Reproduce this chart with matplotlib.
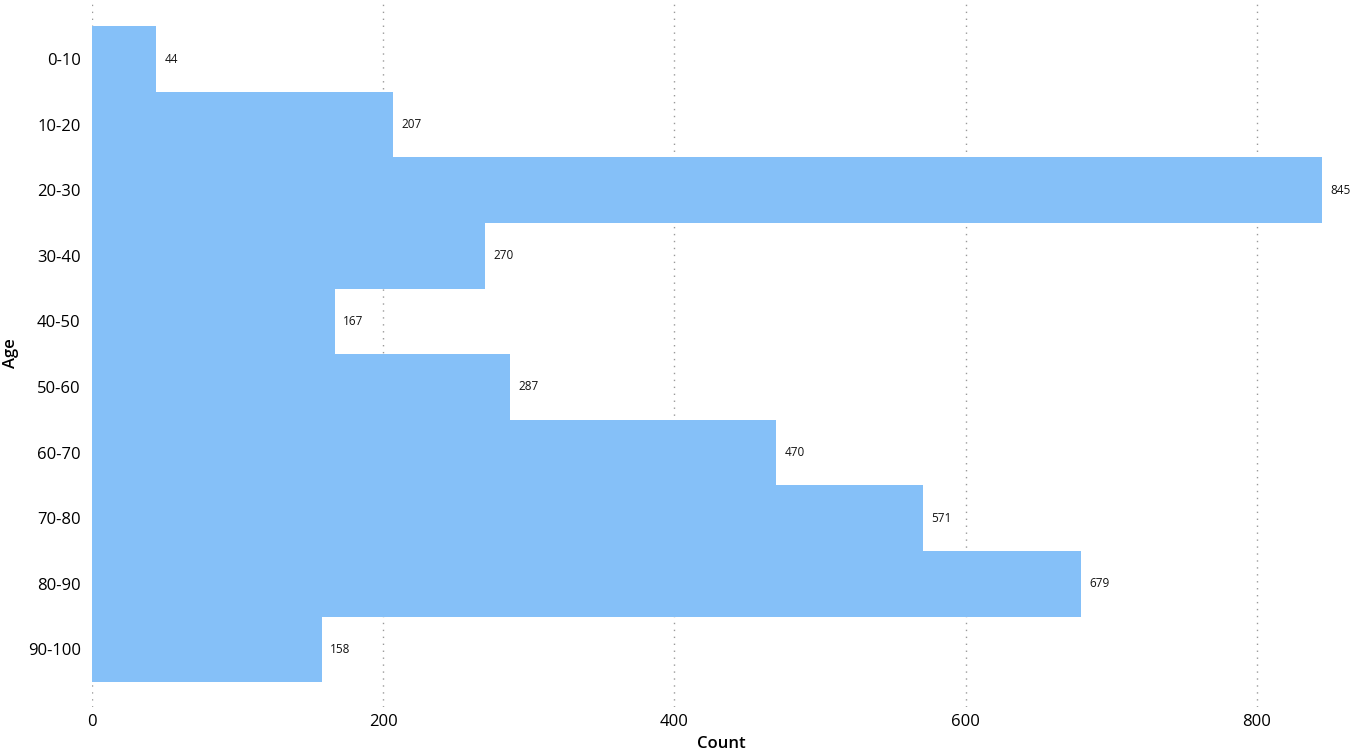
import matplotlib.pyplot as plt
import numpy as np

plt.rcParams['font.family'] = ['Open Sans', 'DejaVu Sans']

ages = ['0-10', '10-20', '20-30', '30-40', '40-50', '50-60', '60-70', '70-80', '80-90', '90-100']
counts = [44, 207, 845, 270, 167, 287, 470, 571, 679, 158]
xticks = [0, 200, 400, 600, 800]

fig = plt.figure(figsize=(13.5, 7.53), dpi=100)
ax = fig.add_axes([0.068, 0.061, 0.932, 0.939])

y = np.arange(len(ages))
bars = ax.barh(y, counts, height=1.0, color='#85c0f8', linewidth=0, zorder=2)

for b, v in zip(bars, counts):
    ax.annotate(str(v), (b.get_width(), b.get_y() + b.get_height() / 2),
                xytext=(6, 0), textcoords='offset points', va='center', ha='left',
                fontsize=8.5, color='#111111')

ax.set_yticks(y)
ax.set_yticklabels(ages, fontsize=12)
ax.set_xticks(xticks)
ax.set_xticklabels([str(t) for t in xticks], fontsize=12)
ax.set_xlim(0, 864)
ax.set_ylim(9.88, -0.9)

ax.grid(axis='x', linestyle=(0, (1, 4)), color='#999999', linewidth=1.0, zorder=0)
ax.set_axisbelow(True)
for s in ax.spines.values():
    s.set_visible(False)
ax.tick_params(axis='y', length=0, pad=8)
ax.tick_params(axis='x', length=0, pad=5)

ax.set_xlabel('Count', fontsize=12, fontweight='semibold', labelpad=4)
ax.set_ylabel('Age', fontsize=12, fontweight='semibold', labelpad=6)

fig.savefig('out.png', dpi=100)
